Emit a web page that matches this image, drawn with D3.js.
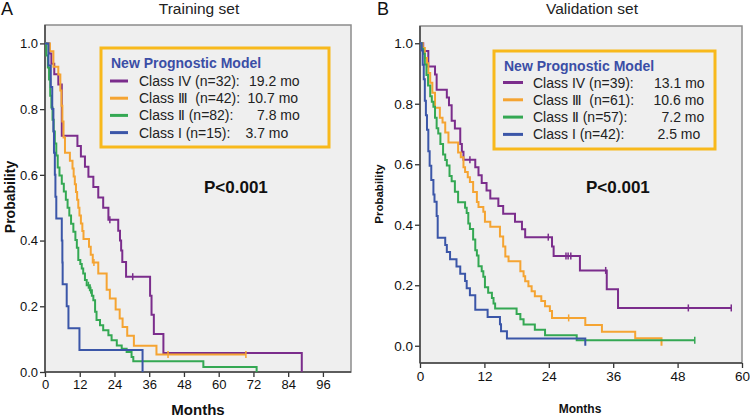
<!DOCTYPE html>
<html><head><meta charset="utf-8">
<script src="https://cdn.jsdelivr.net/npm/d3@7"></script>
<style>
body{margin:0;background:#fff;}
text{font-family:"Liberation Sans","DejaVu Sans",Arial,sans-serif;white-space:pre;}
</style>
</head><body>
<svg id="chart" width="750" height="417"></svg>
<script>
// ---------------- DATA ----------------
const yTicks = [0, 0.2, 0.4, 0.6, 0.8, 1.0];
const xTicksTrain = [0, 12, 24, 36, 48, 60, 72, 84, 96];
const xTicksVal = [0, 12, 24, 36, 48, 60];

const legendTitle = "New Prognostic Model";
const trainLabels = ["Class IV (n=32):", "Class Ⅲ  (n=42):", "Class Ⅱ (n=82):", "Class I (n=15):"];
const trainMedians = ["19.2 mo", "10.7 mo", "7.8 mo", "3.7 mo"];
const valLabels = ["Class IV (n=39):", "Class Ⅲ  (n=61):", "Class Ⅱ (n=57):", "Class I (n=42):"];
const valMedians = ["13.1 mo", "10.6 mo", "7.2 mo", "2.5 mo"];

// Kaplan-Meier steps [months, survival], training set
const trainIV = [[0,1],[1.5,0.969],[2.2,0.938],[3.2,0.906],[4.6,0.875],[5.8,0.719],[11.2,0.688],[12.4,0.656],[13.8,0.625],[15.0,0.594],[16.7,0.563],[18.4,0.531],[20.1,0.5],[21.9,0.463],[25.3,0.43],[25.9,0.40],[26.3,0.37],[26.7,0.335],[28.0,0.29],[36.3,0.232],[36.8,0.174],[37.6,0.116],[40.9,0.058],[88.7,0]];
const trainIII = [[0,1],[1.7,0.976],[2.9,0.929],[4.6,0.905],[5.3,0.857],[5.7,0.81],[6.0,0.762],[6.4,0.714],[6.9,0.667],[8.6,0.643],[9.5,0.619],[9.9,0.595],[10.3,0.571],[10.7,0.548],[11.1,0.524],[11.5,0.5],[11.9,0.476],[12.4,0.452],[12.9,0.429],[13.3,0.405],[15.2,0.381],[15.8,0.357],[16.5,0.333],[18.4,0.30],[21.3,0.25],[22.4,0.224],[24.4,0.19],[25.8,0.163],[26.8,0.137],[28.4,0.11],[30.7,0.08],[38.5,0.053],[69.4,0.053]];
const trainII = [[0,1],[0.5,0.963],[1.0,0.927],[1.4,0.89],[1.8,0.841],[2.2,0.805],[2.6,0.768],[3.0,0.732],[3.4,0.695],[3.9,0.659],[4.4,0.622],[5.0,0.598],[5.8,0.573],[6.5,0.549],[7.2,0.524],[7.8,0.5],[8.4,0.476],[9.0,0.451],[9.8,0.427],[10.5,0.402],[11.0,0.378],[11.5,0.341],[12.2,0.329],[12.7,0.315],[13.2,0.30],[13.8,0.28],[14.4,0.264],[15.5,0.249],[16.2,0.232],[16.7,0.218],[17.3,0.183],[17.8,0.158],[19.0,0.142],[20.1,0.127],[21.9,0.112],[23.0,0.097],[24.8,0.081],[26.5,0.071],[28.2,0.061],[29.9,0.046],[30.5,0.033],[54.7,0.015],[73.1,0]];
const trainI = [[0,1],[1.2,0.933],[2.0,0.867],[2.5,0.8],[2.9,0.733],[3.1,0.667],[3.4,0.6],[3.6,0.533],[3.9,0.467],[5.8,0.4],[6.0,0.333],[6.1,0.267],[7.5,0.2],[8.1,0.133],[11.9,0.067],[33.7,0]];
const trainIVCens = [22.4, 30.3];
const trainIIICens = [16.9, 42.5, 69.4];
const trainIICens = [15.0, 15.8];
const trainICens = [];

// Kaplan-Meier steps [months, survival], validation set
const valIV = [[0,1],[0.6,0.974],[1.55,0.923],[2.8,0.897],[3.1,0.846],[5.0,0.821],[5.4,0.795],[5.9,0.744],[6.5,0.718],[7.5,0.667],[7.8,0.641],[8.1,0.615],[10.3,0.59],[10.9,0.564],[11.5,0.538],[12.4,0.513],[13.1,0.487],[14.6,0.462],[15.5,0.436],[17.7,0.41],[19.0,0.385],[19.6,0.359],[24.6,0.328],[24.9,0.297],[29.8,0.249],[34.8,0.187],[36.9,0.125],[58,0.125]];
const valIII = [[0,1],[0.5,0.984],[0.9,0.951],[1.3,0.934],[1.55,0.902],[1.9,0.869],[2.3,0.836],[2.8,0.787],[3.7,0.754],[4.2,0.738],[4.7,0.705],[5.3,0.672],[7.1,0.639],[7.6,0.623],[8.1,0.59],[8.4,0.574],[8.9,0.557],[9.3,0.541],[9.9,0.508],[10.6,0.475],[10.9,0.459],[11.8,0.443],[12.1,0.41],[13.1,0.393],[14.9,0.361],[15.5,0.328],[15.9,0.295],[16.5,0.279],[18.7,0.246],[19.3,0.23],[19.6,0.213],[20.2,0.197],[20.8,0.18],[21.4,0.164],[22.6,0.148],[23.3,0.131],[24.2,0.115],[24.6,0.092],[30.8,0.069],[33.9,0.046],[40.1,0.025],[45,0]];
const valII = [[0,1],[0.3,0.982],[0.6,0.965],[0.9,0.93],[1.2,0.895],[1.5,0.86],[1.9,0.825],[2.2,0.807],[2.5,0.79],[2.8,0.754],[3.1,0.719],[3.4,0.702],[3.8,0.667],[4.3,0.632],[4.7,0.614],[5.0,0.596],[5.5,0.561],[5.9,0.544],[6.5,0.509],[7.1,0.474],[8.4,0.456],[8.7,0.439],[9.0,0.404],[9.3,0.386],[9.9,0.351],[10.3,0.316],[10.6,0.298],[10.9,0.263],[11.5,0.246],[11.8,0.228],[12.1,0.193],[12.7,0.175],[13.4,0.158],[13.7,0.14],[14.0,0.123],[18.0,0.105],[18.7,0.088],[19.3,0.07],[21.4,0.053],[23.3,0.035],[29.2,0.018],[51.2,0.018]];
const valI = [[0,1],[0.3,0.976],[0.5,0.929],[0.7,0.881],[0.9,0.81],[1.1,0.762],[1.3,0.714],[1.55,0.643],[1.8,0.595],[2.1,0.548],[2.5,0.5],[2.7,0.476],[3.1,0.429],[3.3,0.357],[4.7,0.333],[5.0,0.31],[5.6,0.286],[6.8,0.262],[7.5,0.238],[8.4,0.214],[8.7,0.19],[9.3,0.167],[10.3,0.119],[12.6,0.095],[14.9,0.071],[15.1,0.048],[16.2,0.024],[30.8,0]];
const valIVCens = [9.3, 23.9, 27.2, 27.6, 28.1, 34.6, 50, 58];
const valIIICens = [27.7];
const valIICens = [51.2];
const valICens = [];

// ---------------- STYLE ----------------
const colors = ["#7b2d8c", "#f5a432", "#34a853", "#3b56a8"];
const svg = d3.select("#chart");

function survAt(steps, t) {
  let s = steps[0][1];
  for (const p of steps) { if (p[0] <= t) s = p[1]; }
  return s;
}

function drawPanel(o) {
  const g = svg.append("g");
  const x = d3.scaleLinear().domain(o.xDom).range([o.left, o.right]);
  const y = d3.scaleLinear().domain(o.yDom).range([o.bottom, o.top]);

  g.append("rect").attr("x", o.left).attr("y", o.top)
    .attr("width", o.right - o.left).attr("height", o.bottom - o.top)
    .attr("fill", "#efefef").attr("stroke", "#8c8c8c").attr("stroke-width", 1.5);

  // axes
  const ya = g.append("g").attr("transform", `translate(${o.left},0)`)
    .call(d3.axisLeft(y).tickValues(yTicks).tickFormat(d3.format(".1f")).tickSize(5).tickPadding(2));
  ya.select(".domain").remove();
  ya.selectAll("line").attr("stroke", "#333").attr("stroke-width", 1.3);
  ya.selectAll("text").attr("font-size", o.tickFont).attr("fill", "#111")
    .style("font-family", "'Liberation Sans',Arial,sans-serif");
  const xa = g.append("g").attr("transform", `translate(0,${o.bottom})`)
    .call(d3.axisBottom(x).tickValues(o.xTicks).tickSize(5).tickPadding(3));
  xa.select(".domain").remove();
  xa.selectAll("line").attr("stroke", "#333").attr("stroke-width", 1.3);
  xa.selectAll("text").attr("font-size", o.tickFont).attr("fill", "#111")
    .style("font-family", "'Liberation Sans',Arial,sans-serif");
  g.append("line").attr("x1", o.left).attr("x2", o.left).attr("y1", o.top).attr("y2", o.bottom)
    .attr("stroke", "#444").attr("stroke-width", 1.5);
  g.append("line").attr("x1", o.left).attr("x2", o.right).attr("y1", o.bottom).attr("y2", o.bottom)
    .attr("stroke", "#444").attr("stroke-width", 1.5);

  // curves
  const line = d3.line().x(d => x(d[0])).y(d => y(d[1])).curve(d3.curveStepAfter);
  o.series.forEach((s, i) => {
    g.append("path").datum(s).attr("d", line).attr("fill", "none")
      .attr("stroke", colors[i]).attr("stroke-width", 2);
  });
  o.series.forEach((s, i) => {
    o.cens[i].forEach(t => {
      const yy = y(survAt(s, t));
      g.append("line").attr("x1", x(t)).attr("x2", x(t)).attr("y1", yy - 3.5).attr("y2", yy + 3.5)
        .attr("stroke", colors[i]).attr("stroke-width", 1.5);
    });
  });

  // legend
  const L = o.legend;
  g.append("rect").attr("x", L.x).attr("y", L.y).attr("width", L.w).attr("height", L.h)
    .attr("fill", "#efefef").attr("stroke", "#f8b91c").attr("stroke-width", 3);
  g.append("text").attr("x", L.x + 10).attr("y", L.titleY).text(legendTitle)
    .attr("font-size", 14).attr("font-weight", "bold").attr("fill", "#3b4ea6");
  o.labels.forEach((lab, i) => {
    const by = L.row0 + i * L.dy;
    g.append("line").attr("x1", L.lineX0).attr("x2", L.lineX1).attr("y1", by - 5).attr("y2", by - 5)
      .attr("stroke", colors[i]).attr("stroke-width", 3);
    g.append("text").attr("x", L.textX).attr("y", by).text(lab).attr("font-size", 14).attr("fill", "#222");
    g.append("text").attr("x", L.valX[i]).attr("y", by).text(o.medians[i]).attr("font-size", 14).attr("fill", "#222");
  });

  // texts
  g.append("text").attr("x", o.pX).attr("y", 193).text("P<0.001")
    .attr("font-size", 17).attr("font-weight", "bold").attr("fill", "#111");
  g.append("text").attr("x", o.titleX).attr("y", 14).attr("text-anchor", "middle").text(o.title)
    .attr("font-size", 15.5).attr("fill", "#222");
  g.append("text").attr("x", o.letterX).attr("y", 15).text(o.letter)
    .attr("font-size", 18).attr("fill", "#111");
  g.append("text").attr("x", o.monthsX).attr("y", o.monthsY).attr("text-anchor", "middle").text("Months")
    .attr("font-size", o.monthsFont).attr("font-weight", "bold").attr("fill", "#111");
  g.append("text").attr("transform", `translate(${o.probX},${o.probY}) rotate(-90)`)
    .attr("text-anchor", "middle").text("Probability")
    .attr("font-size", o.probFont).attr("font-weight", "bold").attr("fill", "#111");
}

drawPanel({
  left: 45, right: 351, top: 25, bottom: 372,
  xDom: [0, 105.7], yDom: [0, 1.056], xTicks: xTicksTrain, tickFont: 13,
  series: [trainIV, trainIII, trainII, trainI],
  cens: [trainIVCens, trainIIICens, trainIICens, trainICens],
  labels: trainLabels, medians: trainMedians,
  legend: {x: 101, y: 48, w: 228, h: 99, titleY: 68, row0: 86, dy: 17.2, lineX0: 110, lineX1: 128, textX: 139,
           valX: [249, 247.5, 257, 245.5]},
  pX: 204, title: "Training set", titleX: 199, letter: "A", letterX: 1,
  monthsX: 198, monthsY: 415, monthsFont: 15, probX: 15, probY: 197, probFont: 14
});

drawPanel({
  left: 420, right: 742, top: 26, bottom: 363,
  xDom: [0, 60], yDom: [-0.057, 1.057], xTicks: xTicksVal, tickFont: 13.5,
  series: [valIV, valIII, valII, valI],
  cens: [valIVCens, valIIICens, valIICens, valICens],
  labels: valLabels, medians: valMedians,
  legend: {x: 494, y: 51, w: 221, h: 98, titleY: 71, row0: 87.5, dy: 17.3, lineX0: 503, lineX1: 523, textX: 533,
           valX: [654, 653.5, 661.5, 657.5]},
  pX: 586, title: "Validation set", titleX: 592, letter: "B", letterX: 377,
  monthsX: 580, monthsY: 413, monthsFont: 12, probX: 383, probY: 194, probFont: 11.5
});
</script>
</body></html>
